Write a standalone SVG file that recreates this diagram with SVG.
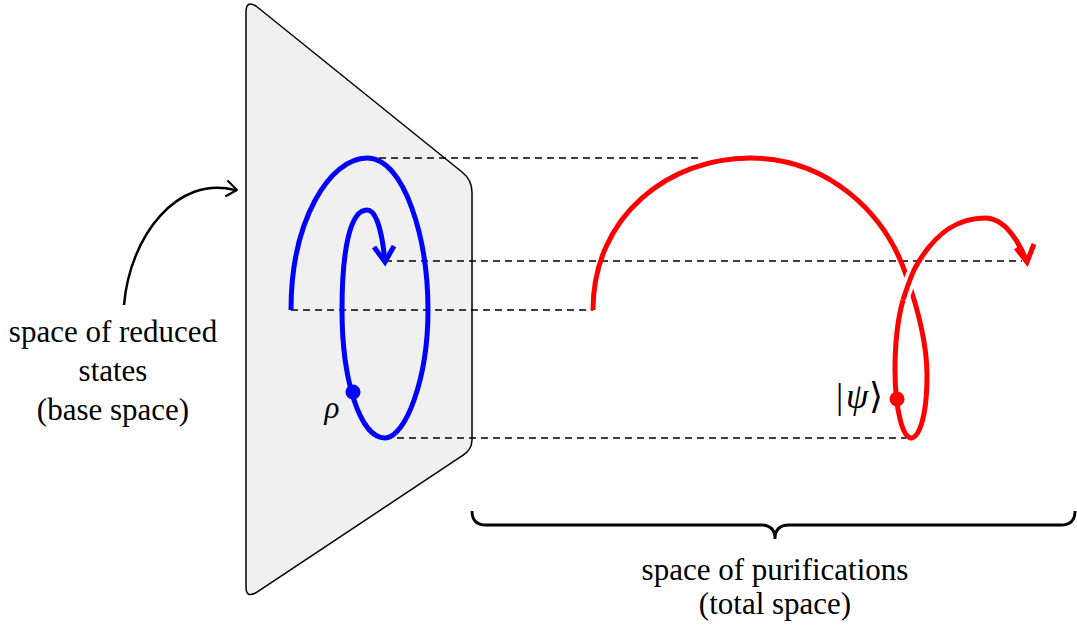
<svg xmlns="http://www.w3.org/2000/svg" width="1077" height="630" viewBox="0 0 1077 630">
<style>
.txt{font-size:31px;fill:#000;text-anchor:middle}
.dash{stroke:#000;stroke-width:1.3;stroke-dasharray:7 5;fill:none}
.blue{stroke:#0000ff;stroke-width:5;fill:none}
.red{stroke:#ff0000;stroke-width:5;fill:none}
</style>
<rect width="1077" height="630" fill="#fff"/>
<g id="base-plane">
<path d="M246,12 Q246,0 256,6 L462,172 Q472,180 472,192 L472,440 Q472,450 462,456 L257,592 Q246,599 246,587 Z" fill="#f0f0f0" stroke="#000" stroke-width="1.5"/>
</g>
<g id="connectors">
<line class="dash" x1="367" y1="158" x2="703" y2="158"/>
<line class="dash" x1="385" y1="261" x2="1022" y2="261"/>
<line class="dash" x1="291" y1="310" x2="593" y2="310"/>
<line class="dash" x1="385" y1="438" x2="906" y2="438"/>
<path d="M124,305 C130,235 178,175 235,190" fill="none" stroke="#000" stroke-width="2.5"/>
<path d="M228,181 L237,190 L226,196" fill="none" stroke="#000" stroke-width="2" stroke-linecap="round" stroke-linejoin="round"/>
</g>
<g id="blue-loop">
<path class="blue" d="M291,310 C291,220 330,158 367,158 C405,158 428,240 428,310 C428,380 405,438 385,438 C360,438 342,380 342,310 C342,250 350,210 367,210 C378,210 383,240 385,262"/>
<path class="blue" d="M374,247 L385,262 L394,246"/>
<circle cx="353" cy="392" r="7.5" fill="#0000ff"/>
<text x="332" y="418" font-size="31" font-style="italic" text-anchor="middle" font-family="Liberation Serif, DejaVu Serif, serif">ρ</text>
</g>
<g id="red-loop">
<path class="red" d="M593,310 C593,215 670,158 750,158 C830,158 885,215 905,272 C915,300 927,340 927,375 C927,420 918,438 911,438 C903,438 895,410 895,370 C895,340 898,318 903,300"/>
<path d="M903,300 C907,288 910,278 915,268" fill="none" stroke="#fff" stroke-width="12"/>
<path class="red" d="M903,300 C907,288 910,278 915,268 C935,232 958,218 985,218 C1005,218 1018,240 1027,262"/>
<path class="red" d="M1016,248 L1027,262 L1034,244"/>
<circle cx="897" cy="399" r="7.5" fill="#ff0000"/>
<text y="408" font-size="36" font-family="Liberation Serif, DejaVu Serif, serif"><tspan x="836">|</tspan><tspan x="846" font-style="italic">ψ</tspan><tspan x="869">⟩</tspan></text>
</g>
<g id="brace">
<path d="M472,511 Q472,525 486,525 L761,525 Q775,525 775,539 Q775,525 789,525 L1061,525 Q1075,525 1075,511" fill="none" stroke="#000" stroke-width="2.8"/>
</g>
<g id="labels" font-family="Liberation Serif, DejaVu Serif, serif">
<text class="txt" x="113" y="342">space of reduced</text>
<text class="txt" x="113" y="381">states</text>
<text class="txt" x="113" y="420">(base space)</text>
<text class="txt" x="775" y="580">space of purifications</text>
<text class="txt" x="775" y="614">(total space)</text>
</g>
</svg>
